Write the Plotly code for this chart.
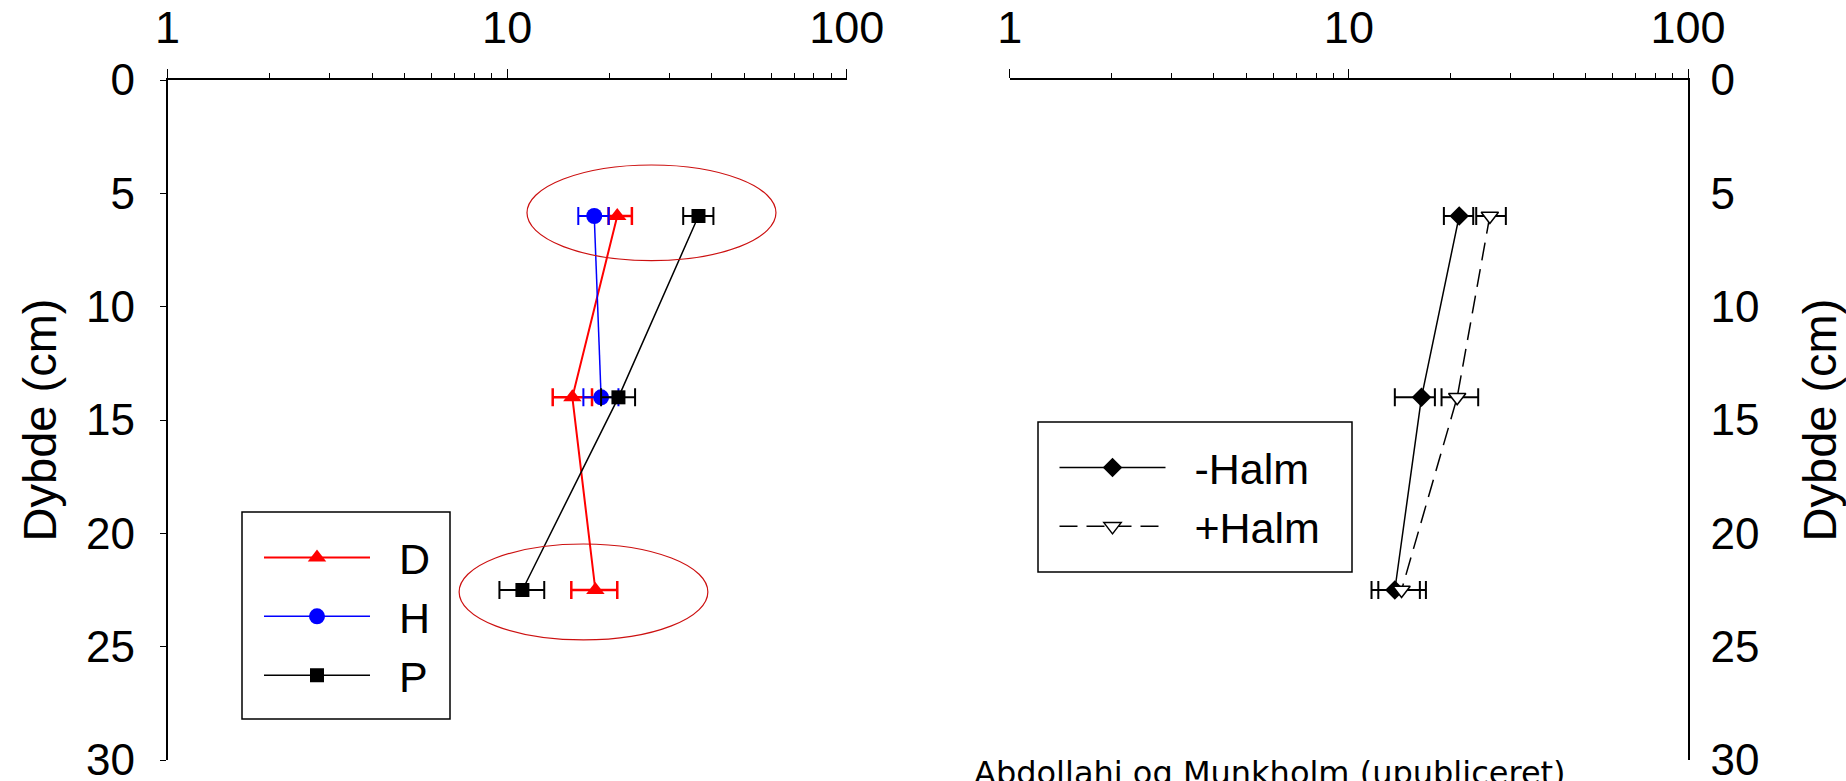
import plotly.graph_objects as go

# depth (cm) of the three sampling layers
depth = [6, 14, 22.5]
depth_h = [6, 14]

# left panel: D, H, P
d_val = [21.1, 15.56, 18.19]
d_lo = [1.2, 1.94, 2.74]
d_hi = [2.2, 2.22, 2.91]

h_val = [18.05, 18.91]
h_lo = [1.85, 2.14]
h_hi = [1.85, 2.36]

p_val = [36.6, 21.27, 11.09]
p_lo = [3.6, 2.36, 1.6]
p_hi = [3.9, 2.54, 1.77]

# right panel: -Halm / +Halm
minus_val = [21.15, 16.37, 13.66]
minus_lo = [2.09, 2.71, 2.0]
minus_hi = [2.11, 1.56, 2.53]

plus_val = [26.04, 20.86, 14.30]
plus_lo = [2.3, 2.1, 2.09]
plus_hi = [2.99, 3.2, 2.57]

# marked groups (x range, depth range)
ellipse_top = ([11.44, 61.9], [3.75, 7.97])
ellipse_bottom = ([7.22, 39.0], [20.47, 24.70])

major_ticks = [1, 10, 100]
minor_ticks = [m * 10 ** e for e in (0, 1) for m in range(2, 10)]
depth_ticks = [0, 5, 10, 15, 20, 25, 30]

W, H = 1846, 781
TOP, BOTTOM = 80, 21
PH = H - TOP - BOTTOM
FONT = "Liberation Sans, Arial, sans-serif"
GAP = "\u00a0\u00a0"  # space between legend sample and label


def px_x(v):
    return v / W


def px_y(v):
    return (H - BOTTOM - v) / PH


def err(lo, hi, color, thick=2):
    return dict(type="data", symmetric=False, array=hi, arrayminus=lo,
                color=color, thickness=thick, width=9)


fig = go.Figure()

fig.add_trace(go.Scatter(x=d_val, y=depth, name=GAP + "D", mode="lines+markers",
                         line=dict(color="#ff0000", width=2),
                         marker=dict(symbol="triangle-up", size=16, color="#ff0000"),
                         error_x=err(d_lo, d_hi, "#ff0000", 2.5),
                         xaxis="x", yaxis="y", legend="legend"))
fig.add_trace(go.Scatter(x=h_val, y=depth_h, name=GAP + "H", mode="lines+markers",
                         line=dict(color="#0000ff", width=1.5),
                         marker=dict(symbol="circle", size=16, color="#0000ff"),
                         error_x=err(h_lo, h_hi, "#0000ff"),
                         xaxis="x", yaxis="y", legend="legend"))
fig.add_trace(go.Scatter(x=p_val, y=depth, name=GAP + "P", mode="lines+markers",
                         line=dict(color="black", width=1.5),
                         marker=dict(symbol="square", size=14, color="black"),
                         error_x=err(p_lo, p_hi, "black"),
                         xaxis="x", yaxis="y", legend="legend"))

fig.add_trace(go.Scatter(x=minus_val, y=depth, name=GAP + "-Halm", mode="lines+markers",
                         line=dict(color="black", width=1.5),
                         marker=dict(symbol="diamond", size=15, color="black"),
                         error_x=err(minus_lo, minus_hi, "black"),
                         xaxis="x2", yaxis="y2", legend="legend2"))
fig.add_trace(go.Scatter(x=plus_val, y=depth, name=GAP + "+Halm", mode="lines+markers",
                         line=dict(color="black", width=1.5, dash="18px,9px"),
                         marker=dict(symbol="triangle-down", size=15, color="white",
                                     line=dict(color="black", width=1.5)),
                         error_x=err(plus_lo, plus_hi, "black"),
                         xaxis="x2", yaxis="y2", legend="legend2"))

for (xr, yr) in (ellipse_top, ellipse_bottom):
    fig.add_shape(type="circle", xref="x", yref="y",
                  x0=xr[0], x1=xr[1], y0=yr[0], y1=yr[1],
                  line=dict(color="#cc1010", width=1.2))

# legend frames
for (x0, x1, y0, y1) in ((242, 450, 512, 719), (1038, 1352, 422, 572)):
    fig.add_shape(type="rect", xref="paper", yref="paper", layer="below",
                  x0=px_x(x0), x1=px_x(x1), y0=px_y(y1), y1=px_y(y0),
                  line=dict(color="black", width=1.5), fillcolor="white")


def xax(x0, x1, anchor):
    return dict(type="log", range=[0, 2], domain=[px_x(x0), px_x(x1)], anchor=anchor,
                side="top", showline=True, linecolor="black", linewidth=1.5,
                ticks="outside", ticklen=9, tickwidth=1.2, tickcolor="black",
                tickvals=major_ticks, ticktext=[str(v) for v in major_ticks],
                ticklabelstandoff=8,
                tickfont=dict(size=45, family=FONT, color="black"),
                minor=dict(ticks="outside", ticklen=5, tickwidth=1, tickcolor="black",
                           tickvals=minor_ticks, showgrid=False),
                showgrid=False, zeroline=False, automargin=False)


def yax(anchor, side, ticks, standoff, title_standoff):
    return dict(range=[30, 0], domain=[0, 1], anchor=anchor, side=side,
                tickvals=depth_ticks, showline=True, linecolor="black", linewidth=1.5,
                ticks=ticks, ticklen=6, tickwidth=1.2, tickcolor="black",
                ticklabelstandoff=standoff, ticklabeloverflow="allow",
                tickfont=dict(size=44, family=FONT, color="black"),
                title=dict(text="Dybde (cm)", font=dict(size=47, family=FONT, color="black"),
                           standoff=title_standoff),
                showgrid=False, zeroline=False, automargin=False)


leg = dict(font=dict(size=43, family=FONT, color="black"), bgcolor="rgba(0,0,0,0)",
           borderwidth=0, itemwidth=106, xanchor="left", yanchor="top", tracegroupgap=0)

fig.update_layout(
    width=W, height=H,
    margin=dict(l=0, r=0, t=TOP, b=BOTTOM, autoexpand=False),
    plot_bgcolor="rgba(0,0,0,0)", paper_bgcolor="white",
    xaxis=xax(167.6, 846.7, "y"),
    yaxis=yax("x", "left", "outside", 16, 15),
    xaxis2=xax(1009.8, 1688, "y2"),
    yaxis2=yax("x2", "right", "", 12, 45),
    legend=dict(leg, x=px_x(259), y=px_y(523)),
    legend2=dict(leg, x=px_x(1054.5), y=px_y(433)),
    showlegend=True,
    annotations=[dict(text="Abdollahi og Munkholm (upubliceret)", xref="paper", yref="paper",
                      x=px_x(972), y=px_y(752), xanchor="left", yanchor="top",
                      showarrow=False,
                      font=dict(size=32, family="DejaVu Sans", color="black"))],
)

# page has a default 8px body margin; drop it so the figure fills the window
fig.write_html("out.html", config={"displayModeBar": False},
               post_script="document.body.style.margin='0';document.body.style.overflow='hidden';")
